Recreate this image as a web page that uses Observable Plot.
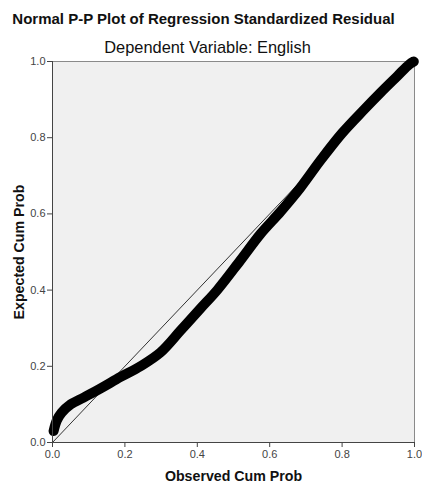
<!DOCTYPE html>
<html>
<head>
<meta charset="utf-8">
<script src="https://cdn.jsdelivr.net/npm/d3@7"></script>
<script src="https://cdn.jsdelivr.net/npm/@observablehq/plot@0.6"></script>
<style>
  html, body { margin: 0; padding: 0; background: #fff; }
  body { width: 422px; height: 492px; overflow: hidden; font-family: Arial, "Liberation Sans", sans-serif; }
  #head { position: relative; width: 422px; height: 55px; }
  #title { position: absolute; left: 0; width: 407px; top: 10px; text-align: center; font-size: 15px; font-weight: bold; color: #111; line-height: 18px; }
  #subtitle { position: absolute; left: 0; width: 415px; top: 38px; text-align: center; font-size: 16.4px; color: #111; line-height: 19px; }
  #chart svg { display: block; }
</style>
</head>
<body>
<div id="head">
  <div id="title">Normal P-P Plot of Regression Standardized Residual</div>
  <div id="subtitle">Dependent Variable: English</div>
</div>
<div id="chart"></div>
<script>
// Observed cumulative probability (x) and expected cumulative probability (y)
const observed = [0.003, 0.012, 0.025, 0.05, 0.086, 0.133, 0.188, 0.243, 0.298, 0.354, 0.409, 0.455, 0.519, 0.575, 0.63, 0.685, 0.74, 0.80, 0.86, 0.906, 0.953, 0.985, 0.998];
const expected = [0.03, 0.058, 0.078, 0.10, 0.118, 0.142, 0.172, 0.20, 0.236, 0.294, 0.352, 0.40, 0.478, 0.548, 0.606, 0.669, 0.74, 0.812, 0.873, 0.918, 0.962, 0.992, 1.0];
const refLine = [0, 1];
const tickValues = [0, 0.2, 0.4, 0.6, 0.8, 1.0];
const xLabel = "Observed Cum Prob";
const yLabel = "Expected Cum Prob";

const pts = observed.map((x, i) => ({x, y: expected[i]}));
const diag = refLine.map(v => ({x: v, y: v}));

const chart = Plot.plot({
  width: 422,
  height: 437,
  marginTop: 6,
  marginBottom: 50,
  marginLeft: 52,
  marginRight: 8,
  style: {fontFamily: "Arial, 'Liberation Sans', sans-serif", fontSize: "11px", color: "#444", background: "#fff"},
  x: {domain: [0, 1]},
  y: {domain: [0, 1]},
  marks: [
    Plot.frame({fill: "#f0f0f0", stroke: "#8a8a8a"}),
    Plot.line(diag, {x: "x", y: "y", stroke: "#333", strokeWidth: 1}),
    Plot.line(pts, {x: "x", y: "y", stroke: "#000", strokeWidth: 10, curve: "catmull-rom", strokeLinecap: "round", strokeLinejoin: "round"}),
    Plot.ruleX([0], {stroke: "#444"}),
    Plot.ruleY([0], {stroke: "#444"}),
    Plot.axisX({ticks: tickValues, tickFormat: d3.format(".1f"), tickSize: 5, tickPadding: 3, label: null, stroke: "#444"}),
    Plot.axisY({ticks: tickValues, tickFormat: d3.format(".1f"), tickSize: 5, tickPadding: 2, label: null, stroke: "#444"}),
    Plot.text([xLabel], {frameAnchor: "bottom", dy: 38, fontWeight: "bold", fontSize: 14.2, fill: "#111"}),
    Plot.text([yLabel], {frameAnchor: "left", textAnchor: "middle", rotate: -90, dx: -33, fontWeight: "bold", fontSize: 14.2, fill: "#111"})
  ]
});
document.getElementById("chart").appendChild(chart);
</script>
</body>
</html>
